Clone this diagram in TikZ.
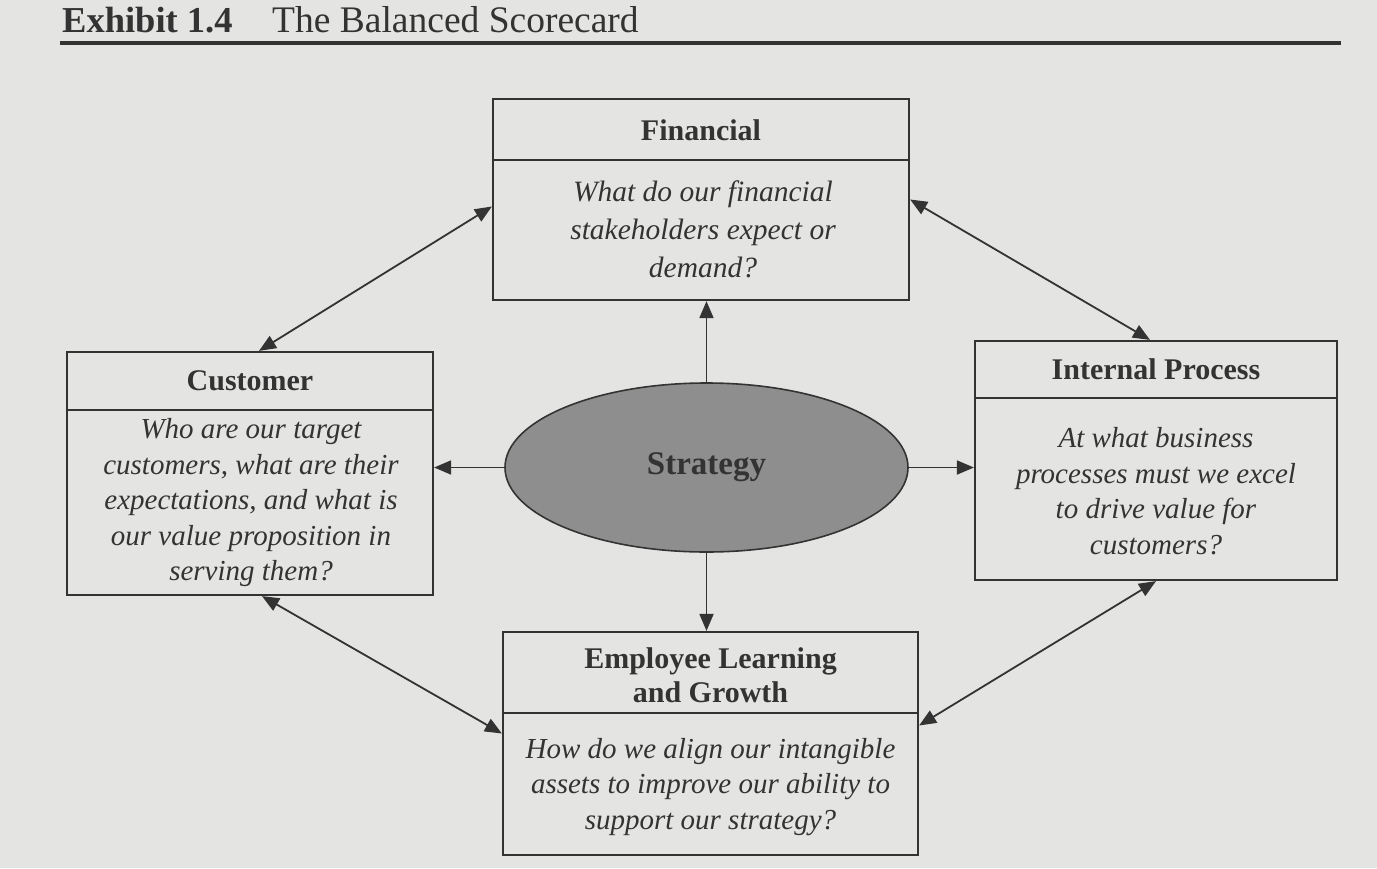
\documentclass[tikz,border=0pt]{standalone}
\usepackage{fontspec}
\setmainfont{Liberation Serif}
\usetikzlibrary{arrows.meta,shapes.geometric,calc}
\definecolor{paper}{HTML}{E4E4E2}
\definecolor{ink}{HTML}{333333}
\definecolor{oval}{HTML}{8E8E8E}

\begin{document}
\begin{tikzpicture}[x=1pt,y=-1pt,
  frame/.style={draw=ink, line width=2.2pt, inner sep=0pt},
  divider/.style={draw=ink, line width=2.2pt},
  head/.style={text=ink, font=\fontsize{30}{34}\selectfont\bfseries, align=center, inner sep=0pt},
  body/.style={text=ink, font=\fontsize{29}{35.5}\selectfont\itshape, align=center, inner sep=0pt},
  tip/.tip={Triangle[length=17pt,width=14pt]},
  link/.style={draw=ink, line width=1.8pt, -tip},
  twoway/.style={draw=ink, line width=1.8pt, tip-tip}
]
% page
\fill[paper] (0,0) rectangle (1377,868);
\useasboundingbox (0,0) rectangle (1377,868);

% heading and rule
\node[anchor=base west, inner sep=0pt, text=ink, font=\fontsize{36.5}{40}\selectfont\bfseries] (exh) at (62,32) {Exhibit 1.4};
\node[anchor=base west, inner sep=0pt, text=ink, font=\fontsize{37.5}{40}\selectfont] (ttl) at (272,32) {The Balanced Scorecard};
\coordinate (ruleA) at (60,43);
\coordinate (ruleB) at (1341,43);
\draw[ink, line width=3.8pt] (ruleA) -- (ruleB);

% Financial
\node[frame, minimum width=416pt, minimum height=201pt] (fin) at (701,199.5) {};
\draw[divider] (fin.west |- 0,160) -- (fin.east |- 0,160);
\node[head] (finh) at (701,130) {Financial};
\node[body, font=\fontsize{29.5}{38}\selectfont\itshape] (finb) at (703,229) {What do our financial\\stakeholders expect or\\demand?};

% Customer
\node[frame, minimum width=366pt, minimum height=243pt] (cus) at (250,473.5) {};
\draw[divider] (cus.west |- 0,410) -- (cus.east |- 0,410);
\node[head] (cush) at (250,381) {Customer};
\node[body] (cusb) at (251,503) {Who are our target\\customers, what are their\\expectations, and what is\\our value proposition in\\serving them?};

% Internal Process
\node[frame, minimum width=362pt, minimum height=239pt] (int) at (1156,460.5) {};
\draw[divider] (int.west |- 0,398) -- (int.east |- 0,398);
\node[head] (inth) at (1156,369.5) {Internal Process};
\node[body] (intb) at (1156,491) {At what business\\processes must we excel\\to drive value for\\customers?};

% Employee Learning and Growth
\node[frame, minimum width=415pt, minimum height=223pt] (emp) at (710.5,743.5) {};
\draw[divider] (emp.west |- 0,713) -- (emp.east |- 0,713);
\node[head] (emph) at (710.5,675) {Employee Learning\\and Growth};
\node[body] (empb) at (710.5,787) {How do we align our intangible\\assets to improve our ability to\\support our strategy?};

% Strategy
\node[ellipse, draw=ink, fill=oval, line width=1.6pt, minimum width=403pt, minimum height=169pt, inner sep=0pt,
      text=ink, font=\fontsize{33}{36}\selectfont\bfseries] (str) at (706.5,467.5) {Strategy};

% connectors from the strategy
\draw[link] (str.north) -- (str.north |- fin.south);
\draw[link] (str.west) -- (str.west -| cus.east);
\draw[link] (str.east) -- (str.east -| int.west);
\draw[link] (str.south) -- (str.south |- emp.north);

% links around the ring
\draw[twoway] ($(cus.north)+(9,0)$) -- ($(fin.west)+(0,7)$);
\draw[twoway] (fin.east) -- ($(int.north)+(-6,0)$);
\draw[twoway] ($(cus.south)+(12,0)$) -- ($(emp.west)+(0,-10)$);
\draw[twoway] (int.south) -- ($(emp.east)+(0,-18)$);
\end{tikzpicture}
\end{document}
